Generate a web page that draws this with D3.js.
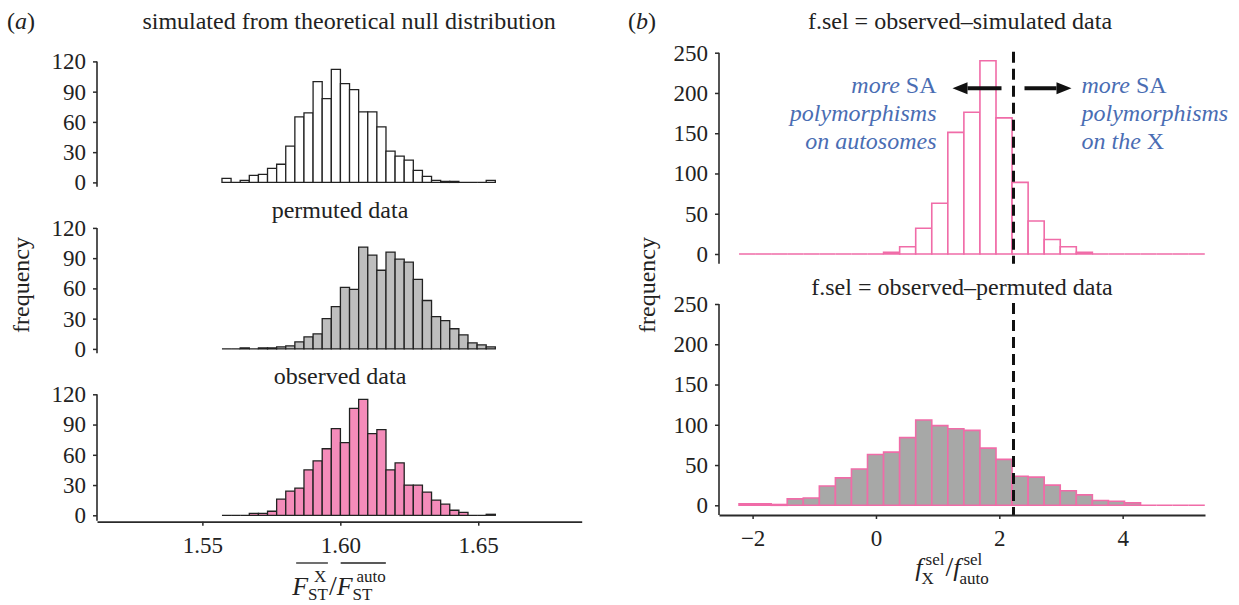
<!DOCTYPE html>
<html>
<head>
<meta charset="utf-8">
<script src="https://cdn.jsdelivr.net/npm/d3@7"></script>
<style>
body { margin: 0; background: #fff; }
svg text { font-family: "Liberation Serif", "Times New Roman", serif; fill: #222; }
</style>
</head>
<body>
<svg width="1239" height="605"></svg>
<script>
// panel (a): mean Fst ratio, 30 bins
const ratioBinStart = 1.5571;
const ratioBinWidth = 0.003303;
const simulatedCounts = [4,0,2,7,8,14,18,36,65,69,100,83,112,98,92,70,70,55,31,26,22,12,6,2,1,1,0,0,0,2];
const permutedCounts = [0,0,1,0,1,1,2,3,7,12,15,30,42,61,59,101,93,78,96,89,86,69,48,32,28,20,14,6,4,2];
const observedCounts = [0,0,0,2,2,4,16,24,27,45,54,66,86,72,106,115,81,85,45,52,30,30,23,15,11,5,3,0,0,1];
const ratioTicksX = [1.55, 1.60, 1.65];
const countTicksA = [0, 30, 60, 90, 120];

// panel (b): f.sel ratio, 29 bins
const fselBinStart = -2.22;
const fselBinWidth = 0.2604;
const fselSimulatedCounts = [0,0,0,0,0,0,0,0,0,2,9,32,63,151,176,240,169,89,41,18,9,2,0,0,0,0,0,0,0];
const fselPermutedCounts = [2,2,1,8,9,24,34,45,63,66,84,106,99,95,93,71,57,36,35,25,18,13,6,5,3,0,0,0,0];
const observedFsel = 2.23;
const fselTicksX = [-2, 0, 2, 4];
const countTicksB = [0, 50, 100, 150, 200, 250];

const svg = d3.select('svg');
const axisColor = '#2a2a2a';
const pink = '#f06ca8';

function drawHist(g, counts, start, w, x, y, fill, stroke, sw) {
    // paths instead of rects so empty bins still show their outline
    g.selectAll('path.bar')
        .data(counts)
        .join('path')
        .attr('class', 'bar')
        .attr('d', (d, i) => {
            const x0 = x(start + i * w), x1 = x(start + (i + 1) * w);
            return `M${x0},${y(0)}V${y(d)}H${x1}V${y(0)}Z`;
        })
        .attr('fill', fill)
        .attr('stroke', stroke)
        .attr('stroke-width', sw);
}

function styleAxis(g) {
    g.attr('font-size', 23)
        .attr('font-family', '"Liberation Serif", "Times New Roman", serif')
        .attr('color', axisColor);
    g.selectAll('line').attr('stroke-width', 1.5);
    g.selectAll('text').attr('fill', '#222');
}

// ---------- panel (a) ----------
const xA = d3.scaleLinear().domain([1.5118, 1.6875]).range([97, 581.7]);
const rowsA = [
    { counts: simulatedCounts, base: 182.4, fill: '#ffffff', bottom: -4.4 },
    { counts: permutedCounts, base: 348.9, fill: '#bebebe', bottom: -4.4 },
    { counts: observedCounts, base: 515.3, fill: '#f48cba', bottom: -5.3 }
];

rowsA.forEach(row => {
    const y = d3.scaleLinear().domain([0, 120]).range([row.base, row.base - 121]);
    const g = svg.append('g');
    drawHist(g, row.counts, ratioBinStart, ratioBinWidth, xA, y, row.fill, '#222', 1.3);

    const ax = svg.append('g')
        .attr('transform', `translate(${xA.range()[0]},0)`)
        .call(d3.axisLeft(y).tickValues(countTicksA).tickSize(4).tickPadding(7));
    ax.select('.domain').remove();
    styleAxis(ax);
    svg.append('line')
        .attr('x1', xA.range()[0]).attr('x2', xA.range()[0])
        .attr('y1', y(120)).attr('y2', y(row.bottom))
        .attr('stroke', axisColor).attr('stroke-width', 1.6);
});

const xAxisA = svg.append('g')
    .attr('transform', 'translate(0,521.7)')
    .call(d3.axisBottom(xA).tickValues(ratioTicksX).tickFormat(d3.format('.2f'))
        .tickSize(4).tickSizeOuter(0).tickPadding(11));
styleAxis(xAxisA);
xAxisA.select('.domain').attr('stroke-width', 1.8);

// ---------- panel (b) ----------
const xB = d3.scaleLinear().domain([-2.545, 5.335]).range([719, 1205]);
const rowsB = [
    { counts: fselSimulatedCounts, base: 254, fill: '#ffffff' },
    { counts: fselPermutedCounts, base: 505.3, fill: '#a7a8a7' }
];

rowsB.forEach((row, k) => {
    const y = d3.scaleLinear().domain([0, 250]).range([row.base, row.base - 201.3]);
    const g = svg.append('g');
    drawHist(g, row.counts, fselBinStart, fselBinWidth, xB, y, row.fill, pink, 1.6);

    const ax = svg.append('g')
        .attr('transform', `translate(${xB.range()[0]},0)`)
        .call(d3.axisLeft(y).tickValues(countTicksB).tickSize(4).tickPadding(7));
    ax.select('.domain').remove();
    styleAxis(ax);
    svg.append('line')
        .attr('x1', xB.range()[0]).attr('x2', xB.range()[0])
        .attr('y1', y(250)).attr('y2', y(-12))
        .attr('stroke', axisColor).attr('stroke-width', 1.6);

    // observed value
    svg.append('line')
        .attr('x1', xB(observedFsel)).attr('x2', xB(observedFsel))
        .attr('y1', y(250) - 1).attr('y2', y(-12))
        .attr('stroke', '#111').attr('stroke-width', 3)
        .attr('stroke-dasharray', '11,6');
});

const xAxisB = svg.append('g')
    .attr('transform', 'translate(0,515)')
    .call(d3.axisBottom(xB).tickValues(fselTicksX).tickFormat(d => d < 0 ? '\u2212' + Math.abs(d) : d)
        .tickSize(4).tickSizeOuter(0).tickPadding(11));
styleAxis(xAxisB);
xAxisB.select('.domain').attr('stroke-width', 1.8);

// ---------- titles ----------
function label(x, y, txt, anchor) {
    return svg.append('text').attr('x', x).attr('y', y)
        .attr('font-size', 24).attr('text-anchor', anchor || 'middle').text(txt);
}

const panelA = svg.append('text').attr('x', 7).attr('y', 29).attr('font-size', 24);
panelA.append('tspan').text('(');
panelA.append('tspan').attr('font-style', 'italic').text('a');
panelA.append('tspan').text(')');
const panelB = svg.append('text').attr('x', 628).attr('y', 29).attr('font-size', 24);
panelB.append('tspan').text('(');
panelB.append('tspan').attr('font-style', 'italic').text('b');
panelB.append('tspan').text(')');

label(349, 29, 'simulated from theoretical null distribution');
label(340, 218, 'permuted data');
label(340, 384, 'observed data');
label(960, 29, 'f.sel = observed\u2013simulated data');
label(962, 295, 'f.sel = observed\u2013permuted data');

svg.append('text').attr('transform', 'translate(29,285) rotate(-90)')
    .attr('font-size', 24).attr('text-anchor', 'middle').text('frequency');
svg.append('text').attr('transform', 'translate(655,285) rotate(-90)')
    .attr('font-size', 24).attr('text-anchor', 'middle').text('frequency');

// math axis titles: one text element, tspans placed one after another
function mathLabel(cx, base, groups, supDy, subDy) {
    const g = svg.append('g');
    const t = g.append('text');
    const bars = [];
    let x = 0;
    groups.forEach(grp => {
        const x0 = x;
        const m = t.append('tspan').attr('x', x).attr('y', base)
            .attr('font-size', grp.size || 26)
            .attr('font-style', grp.italic ? 'italic' : 'normal').text(grp.main);
        x += m.node().getComputedTextLength();
        let w = 0;
        if (grp.sup) {
            const s = t.append('tspan').attr('x', x + (grp.supShift || 0)).attr('y', base + supDy)
                .attr('font-size', 17).attr('font-style', 'normal').text(grp.sup);
            w = Math.max(w, s.node().getComputedTextLength() + (grp.supShift || 0));
        }
        if (grp.sub) {
            const s = t.append('tspan').attr('x', x + (grp.subShift || 0)).attr('y', base + subDy)
                .attr('font-size', 17).attr('font-style', 'normal').text(grp.sub);
            w = Math.max(w, s.node().getComputedTextLength() + (grp.subShift || 0));
        }
        x += w + (grp.gap || 0);
        if (grp.over) bars.push([x0 + 4, x - (grp.gap || 0)]);
    });
    bars.forEach(b => g.append('line').attr('x1', b[0]).attr('x2', b[1])
        .attr('y1', base - 32).attr('y2', base - 32)
        .attr('stroke', '#222').attr('stroke-width', 1.3));
    g.attr('transform', `translate(${cx - x / 2},0)`);
}

mathLabel(339, 595, [
    { main: 'F', italic: true, sup: 'X', sub: 'ST', supShift: 6, subShift: 0, over: true, gap: 1 },
    { main: '/', size: 28 },
    { main: 'F', italic: true, sup: 'auto', sub: 'ST', supShift: 4, subShift: 0, over: true }
], -13, 5);

mathLabel(952, 576, [
    { main: 'f', italic: true, sup: 'sel', sub: 'X', supShift: 3, subShift: -1, gap: 1 },
    { main: '/', size: 28 },
    { main: 'f', italic: true, sup: 'sel', sub: 'auto', supShift: 3, subShift: -1 }
], -11, 8);

// ---------- annotations ----------
const blue = '#4a6db3';
function note(x, y, anchor, parts) {
    const t = svg.append('text').attr('x', x).attr('y', y)
        .attr('font-size', 24).attr('text-anchor', anchor);
    parts.forEach(p => t.append('tspan').attr('font-style', p[1] ? 'italic' : 'normal')
        .style('fill', blue).text(p[0]));
}
const xObs = xB(observedFsel);
note(xObs - 77, 93, 'end', [['more', true], [' SA', false]]);
note(xObs - 77, 121, 'end', [['polymorphisms', true]]);
note(xObs - 77, 149, 'end', [['on autosomes', true]]);
note(xObs + 68, 93, 'start', [['more', true], [' SA', false]]);
note(xObs + 68, 121, 'start', [['polymorphisms', true]]);
note(xObs + 68, 149, 'start', [['on the', true], [' X', false]]);

function arrow(x0, x1, y) {
    const dir = Math.sign(x1 - x0);
    const hl = 15, hw = 6;
    svg.append('line').attr('x1', x0).attr('x2', x1 - dir * hl)
        .attr('y1', y).attr('y2', y).attr('stroke', '#111').attr('stroke-width', 4);
    svg.append('path')
        .attr('d', `M${x1},${y}L${x1 - dir * hl},${y - hw}L${x1 - dir * hl},${y + hw}Z`)
        .attr('fill', '#111');
}
arrow(xObs - 12, xObs - 61, 88.3);
arrow(xObs + 11, xObs + 58, 88.3);
</script>
</body>
</html>
